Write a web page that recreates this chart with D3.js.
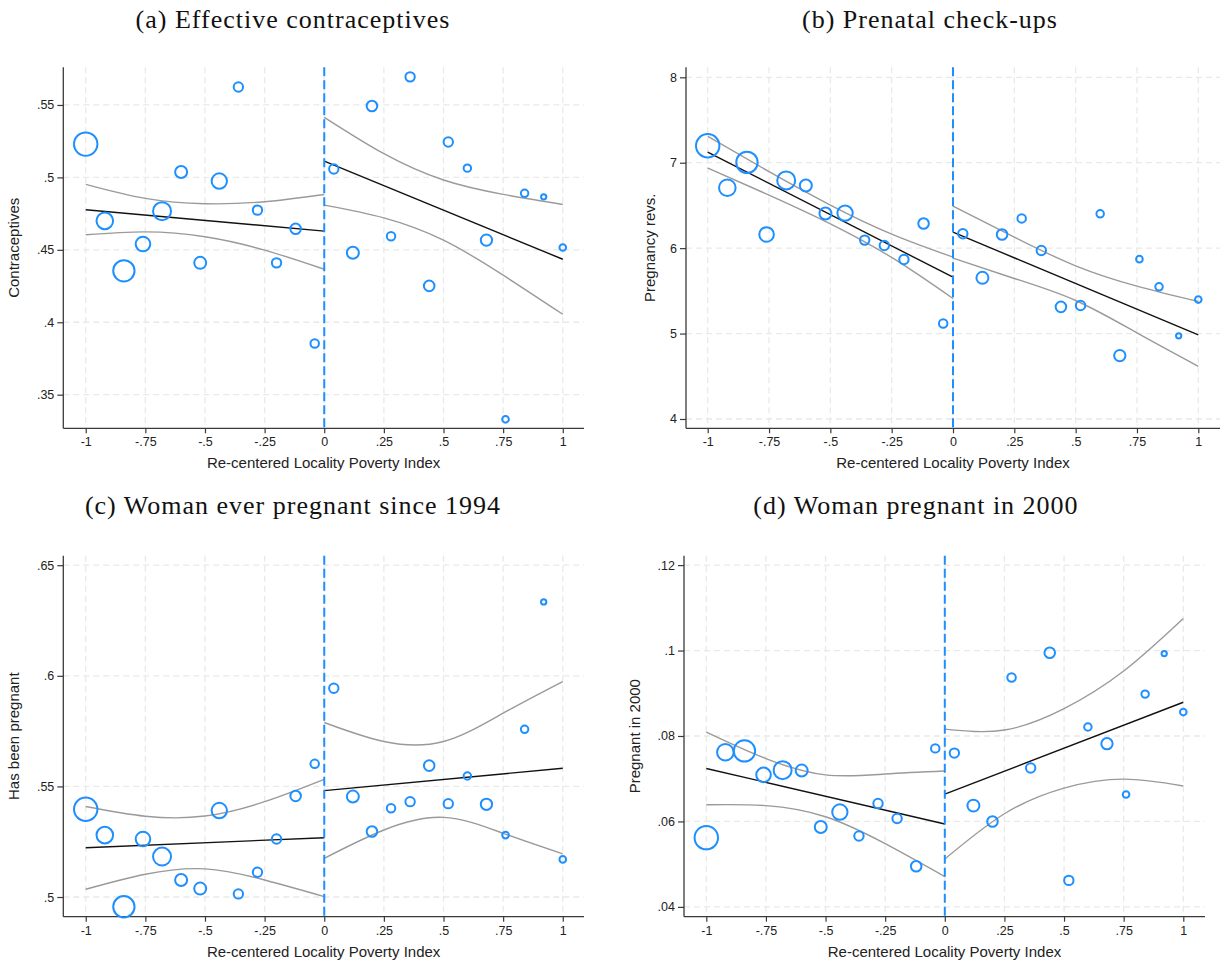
<!DOCTYPE html>
<html>
<head>
<meta charset="utf-8">
<script src="https://cdn.jsdelivr.net/npm/d3@7/dist/d3.min.js"></script>
<style>
  html, body { margin: 0; padding: 0; background: #fff; }
  svg { display: block; }
</style>
</head>
<body>
<svg id="chart" width="1225" height="964"></svg>
<script>
// Bin midpoints of the re-centered locality poverty index (bin width 0.08)
const binX = [-1, -0.92, -0.84, -0.76, -0.68, -0.6, -0.52, -0.44, -0.36, -0.28, -0.2, -0.12, -0.04,
              0.04, 0.12, 0.2, 0.28, 0.36, 0.44, 0.52, 0.6, 0.68, 0.76, 0.84, 0.92, 1];
// Observations per bin (marker area)
const binObs = [137, 69, 114, 53, 81, 36, 36, 59, 22, 22, 22, 28, 18,
                22, 36, 28, 18, 22, 28, 22, 14, 32, 11, 14, 7, 11];

// Bin means
const contraceptives = [0.523, 0.470, 0.4355, 0.454, 0.4767, 0.5037, 0.441, 0.4975, 0.5624, 0.4774, 0.441, 0.4645, 0.3853,
                        0.5058, 0.448, 0.5493, 0.4594, 0.5694, 0.4251, 0.5244, 0.5064, 0.4567, 0.333, 0.489, 0.4866, 0.4516];
const prenatalRevs = [7.199, 6.707, 7.004, 6.16, 6.793, 6.734, 6.406, 6.41, 6.094, 6.031, 5.867, 6.289, 5.117,
                      6.168, 5.652, 6.16, 6.348, 5.973, 5.3125, 5.328, 6.402, 4.742, 5.871, 5.547, 4.973, 5.398];
const everPregnant = [0.5397, 0.528, 0.4956, 0.5262, 0.5183, 0.5077, 0.5038, 0.5391, 0.5014, 0.5112, 0.5262, 0.5457, 0.5602,
                      0.5944, 0.5454, 0.5296, 0.5401, 0.5431, 0.5594, 0.5422, 0.5547, 0.5419, 0.528, 0.5758, 0.6334, 0.517];
const pregnant2000 = [0.0562, 0.0762, 0.0765, 0.0709, 0.072, 0.0719, 0.0587, 0.0622, 0.0566, 0.0642, 0.0607, 0.0495, 0.0771,
                      0.076, 0.0637, 0.06, 0.0937, 0.0725, 0.0995, 0.0462, 0.0821, 0.0782, 0.0663, 0.0898, 0.0993, 0.0856];

// Linear fits on each side of the cutoff (value at x=-1 and x=0; x=0 and x=1)
const fitSpanLeft = [-1, 0];
const fitSpanRight = [0, 1];
const contraFitL = [0.4777, 0.4629], contraFitR = [0.5113, 0.4435];
const prenatalFitL = [7.125, 5.66],   prenatalFitR = [6.1875, 4.984];
const everFitL = [0.5223, 0.5268],    everFitR = [0.5481, 0.5582];
const preg2000FitL = [0.0724, 0.0594], preg2000FitR = [0.0664, 0.0879];

// 95% confidence bands, evaluated at these x values
const bandXLeft = [-1, -0.75, -0.5, -0.25, 0];
const bandXRight = [0, 0.25, 0.5, 0.75, 1];
const contraUpL = [0.4952, 0.4855, 0.4818, 0.4832, 0.4882], contraLoL = [0.4604, 0.4624, 0.4590, 0.4498, 0.4366];
const contraUpR = [0.5415, 0.5164, 0.4982, 0.4883, 0.4813], contraLoR = [0.4809, 0.4721, 0.4567, 0.4325, 0.4055];
const prenatalUpL = [7.309, 6.895, 6.504, 6.164, 5.895], prenatalLoL = [6.938, 6.621, 6.285, 5.891, 5.41];
const prenatalUpR = [6.492, 6.129, 5.793, 5.555, 5.375], prenatalLoR = [5.883, 5.645, 5.387, 5.008, 4.617];
const everUpL = [0.5409, 0.5365, 0.5366, 0.5431, 0.5532], everLoL = [0.5035, 0.5103, 0.5127, 0.5077, 0.5002];
const everUpR = [0.5789, 0.5703, 0.5703, 0.5831, 0.5974], everLoR = [0.5175, 0.5303, 0.5360, 0.5288, 0.5195];
const preg2000UpL = [0.0809, 0.0747, 0.0709, 0.0711, 0.0718], preg2000LoL = [0.0639, 0.0637, 0.0611, 0.0548, 0.0471];
const preg2000UpR = [0.0816, 0.0814, 0.0864, 0.0952, 0.1075], preg2000LoR = [0.0512, 0.0618, 0.0678, 0.0699, 0.0683];

// Ticks
const xTicks = [-1, -0.75, -0.5, -0.25, 0, 0.25, 0.5, 0.75, 1];
const xTickLabels = ["-1", "-.75", "-.5", "-.25", "0", ".25", ".5", ".75", "1"];
const contraTicks = [0.35, 0.4, 0.45, 0.5, 0.55], contraTickLabels = [".35", ".4", ".45", ".5", ".55"];
const prenatalTicks = [4, 5, 6, 7, 8], prenatalTickLabels = ["4", "5", "6", "7", "8"];
const everTicks = [0.5, 0.55, 0.6, 0.65], everTickLabels = [".5", ".55", ".6", ".65"];
const preg2000Ticks = [0.04, 0.06, 0.08, 0.1, 0.12], preg2000TickLabels = [".04", ".06", ".08", ".1", ".12"];

const xTitle = "Re-centered Locality Poverty Index";

const BLUE = "#1e8fff";
const SANS = "'Liberation Sans', Arial, sans-serif";
const svg = d3.select("#chart");
svg.append("rect").attr("width", 1225).attr("height", 964).attr("fill", "#fff");

const rScale = d3.scaleSqrt().domain([0, d3.max(binObs)]).range([0, 11.7]);

function drawPanel(p) {
  const x = d3.scaleLinear().domain(p.xDomain).range([p.left, p.right]);
  const y = d3.scaleLinear().domain(p.yDomain).range([p.bottom, p.top]);
  const g = svg.append("g");

  // title
  g.append("text")
    .attr("x", p.titleX).attr("y", p.titleY)
    .attr("text-anchor", "middle")
    .attr("font-family", "'Liberation Serif', 'Times New Roman', serif")
    .attr("font-size", 26)
    .attr("letter-spacing", 1)
    .attr("fill", "#111")
    .text(p.title);

  // grid
  const grid = g.append("g")
    .attr("stroke", "#e9e9e9").attr("stroke-width", 1.3).attr("stroke-dasharray", "6,4");
  grid.selectAll("line.gx").data(xTicks).join("line")
    .attr("x1", d => x(d)).attr("x2", d => x(d))
    .attr("y1", p.top).attr("y2", p.bottom);
  grid.selectAll("line.gy").data(p.yTicks).join("line")
    .attr("x1", p.left).attr("x2", p.right)
    .attr("y1", d => y(d)).attr("y2", d => y(d));

  // axes
  const xAxis = d3.axisBottom(x).tickValues(xTicks)
    .tickFormat((d, i) => xTickLabels[i]).tickSizeInner(5).tickSizeOuter(0).tickPadding(4);
  const gx = g.append("g").attr("transform", `translate(0,${p.bottom})`).call(xAxis);
  const yAxis = d3.axisLeft(y).tickValues(p.yTicks)
    .tickFormat((d, i) => p.yTickLabels[i]).tickSizeInner(6).tickSizeOuter(0).tickPadding(3);
  const gy = g.append("g").attr("transform", `translate(${p.left},0)`).call(yAxis);
  [gx, gy].forEach(a => {
    a.select(".domain").attr("stroke", "#3a3a3a").attr("stroke-width", 1.3);
    a.selectAll(".tick line").attr("stroke", "#3a3a3a").attr("stroke-width", 1.2);
    a.selectAll(".tick text")
      .attr("font-family", SANS)
      .attr("font-size", 12.5).attr("fill", "#222");
  });
  // axis lines span the full plot region
  gx.select(".domain").attr("d", `M${p.left},0H${p.right}`);
  gy.select(".domain").attr("d", `M0,${p.top}V${p.bottom}`);

  // axis titles
  g.append("text")
    .attr("x", (p.left + p.right) / 2).attr("y", p.bottom + 40)
    .attr("text-anchor", "middle")
    .attr("font-family", SANS)
    .attr("font-size", 15).attr("fill", "#222")
    .text(xTitle);
  g.append("text")
    .attr("transform", `translate(${p.yLabelX},${(p.top + p.bottom) / 2}) rotate(-90)`)
    .attr("text-anchor", "middle")
    .attr("font-family", SANS)
    .attr("font-size", 15).attr("fill", "#222")
    .text(p.yTitle);

  // confidence bands
  const band = d3.line().x(d => x(d[0])).y(d => y(d[1])).curve(d3.curveNatural);
  const bands = [
    [bandXLeft, p.upL], [bandXLeft, p.loL], [bandXRight, p.upR], [bandXRight, p.loR]
  ];
  bands.forEach(([xs, ys]) => {
    g.append("path").attr("d", band(d3.zip(xs, ys)))
      .attr("fill", "none").attr("stroke", "#9a9a9a").attr("stroke-width", 1.4);
  });

  // fits
  const fitLine = d3.line().x(d => x(d[0])).y(d => y(d[1]));
  [[fitSpanLeft, p.fitL], [fitSpanRight, p.fitR]].forEach(([xs, ys]) => {
    g.append("path").attr("d", fitLine(d3.zip(xs, ys)))
      .attr("fill", "none").attr("stroke", "#111").attr("stroke-width", 1.4);
  });

  // cutoff
  g.append("line")
    .attr("x1", x(0)).attr("x2", x(0))
    .attr("y1", p.top).attr("y2", p.bottom)
    .attr("stroke", BLUE).attr("stroke-width", 2).attr("stroke-dasharray", "9,4");

  // bin means
  g.append("g").selectAll("circle").data(d3.zip(binX, p.values, binObs)).join("circle")
    .attr("cx", d => x(d[0])).attr("cy", d => y(d[1])).attr("r", d => rScale(d[2]))
    .attr("fill", "none").attr("stroke", BLUE).attr("stroke-width", 2);
}

drawPanel({
  title: "(a) Effective contraceptives", titleX: 293, titleY: 28,
  left: 63.3, right: 584, top: 67.3, bottom: 428.3,
  xDomain: [-1.094, 1.089], yDomain: [0.3268, 0.576],
  yTicks: contraTicks, yTickLabels: contraTickLabels, yTitle: "Contraceptives", yLabelX: 19,
  values: contraceptives, fitL: contraFitL, fitR: contraFitR,
  upL: contraUpL, loL: contraLoL, upR: contraUpR, loR: contraLoR
});
drawPanel({
  title: "(b) Prenatal check-ups", titleX: 930, titleY: 28,
  left: 686, right: 1220, top: 67.3, bottom: 428.3,
  xDomain: [-1.0885, 1.0885], yDomain: [3.891, 8.117],
  yTicks: prenatalTicks, yTickLabels: prenatalTickLabels, yTitle: "Pregnancy revs.", yLabelX: 655,
  values: prenatalRevs, fitL: prenatalFitL, fitR: prenatalFitR,
  upL: prenatalUpL, loL: prenatalLoL, upR: prenatalUpR, loR: prenatalLoR
});
drawPanel({
  title: "(c) Woman ever pregnant since 1994", titleX: 293, titleY: 514,
  left: 63.3, right: 584, top: 555.7, bottom: 916.7,
  xDomain: [-1.094, 1.089], yDomain: [0.4911, 0.6543],
  yTicks: everTicks, yTickLabels: everTickLabels, yTitle: "Has been pregnant", yLabelX: 19,
  values: everPregnant, fitL: everFitL, fitR: everFitR,
  upL: everUpL, loL: everLoL, upR: everUpR, loR: everLoR
});
drawPanel({
  title: "(d) Woman pregnant in 2000", titleX: 916, titleY: 514,
  left: 684, right: 1205, top: 555.7, bottom: 916.7,
  xDomain: [-1.0935, 1.091], yDomain: [0.0377, 0.1222],
  yTicks: preg2000Ticks, yTickLabels: preg2000TickLabels, yTitle: "Pregnant in 2000", yLabelX: 640,
  values: pregnant2000, fitL: preg2000FitL, fitR: preg2000FitR,
  upL: preg2000UpL, loL: preg2000LoL, upR: preg2000UpR, loR: preg2000LoR
});
</script>
</body>
</html>
